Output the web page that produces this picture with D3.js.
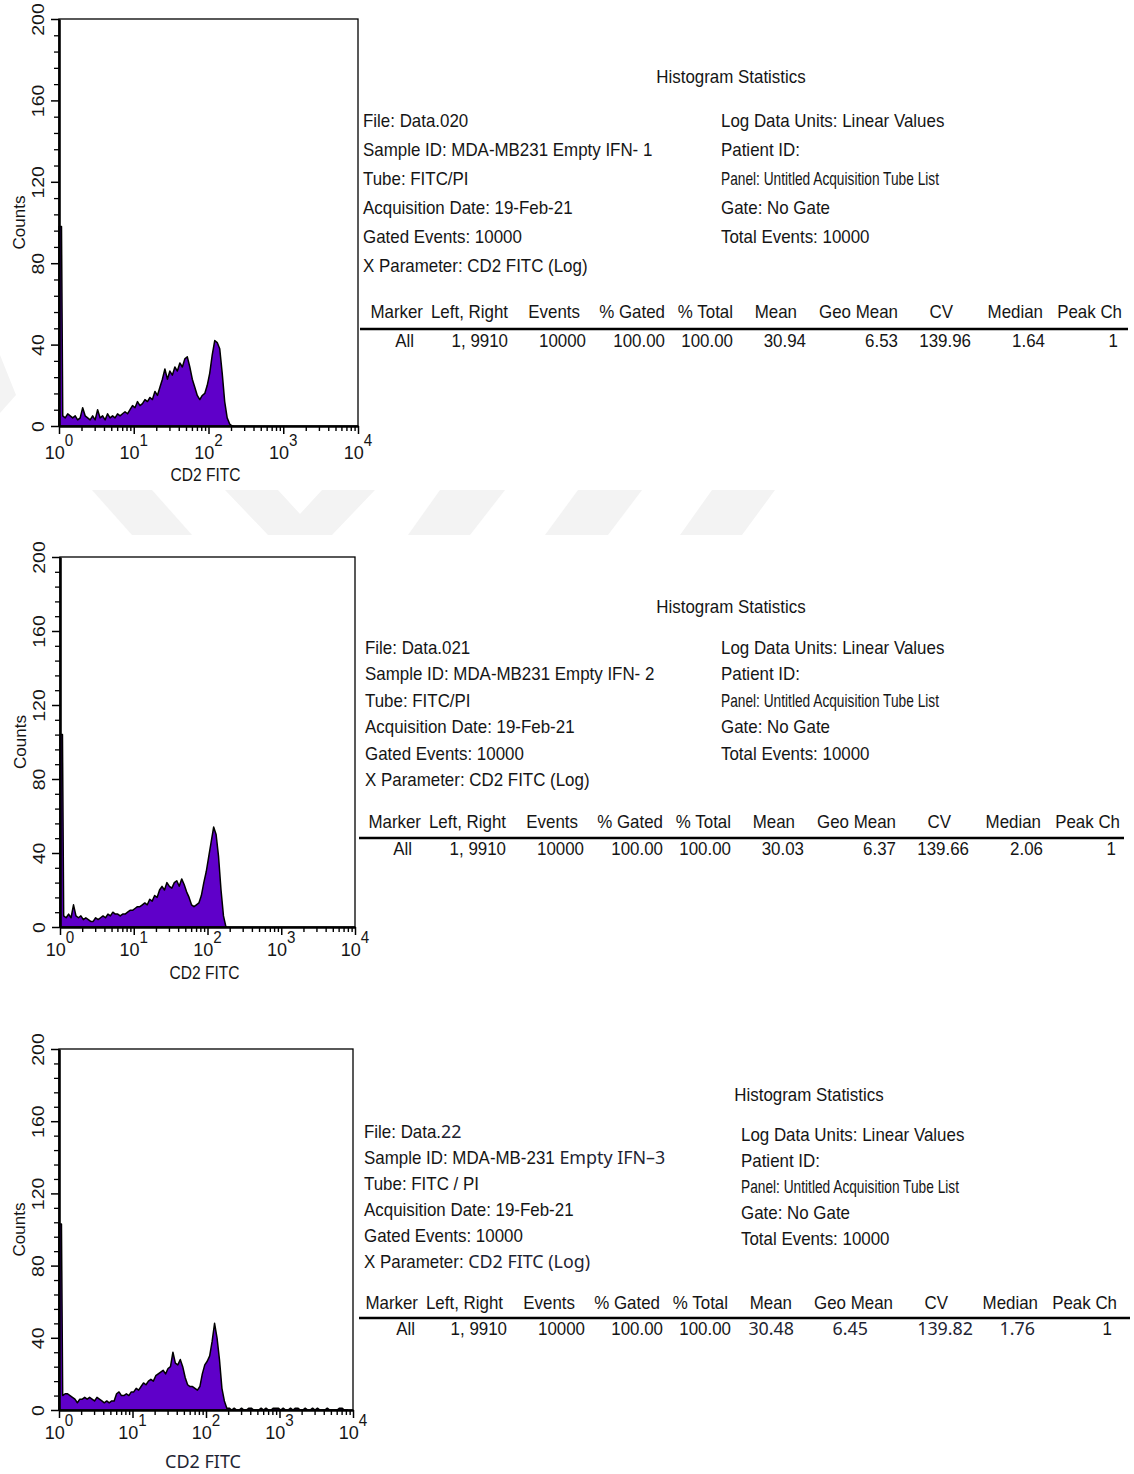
<!DOCTYPE html>
<meta charset="utf-8">
<style>
  body { margin: 0; background: #fff; }
  #chart svg text { font-family: "Liberation Sans", Arial, sans-serif; fill: #151515; }
</style>
<body>
<div id="chart"></div>
<script src="https://d3js.org/d3.v7.min.js"></script>
<script>
// ---- data ----
// counts per channel, 30 channels per decade starting at 10^0
const binsPerDecade = 30;
const counts1 = [98,
  5,4,6,5,4,5,3,4,9,5,4,3,5,3,8,4,5,3,6,4,5,4,6,5,6,7,6,8,10,
  9,12,10,11,13,12,14,13,17,15,19,23,28,23,27,25,29,27,31,29,33,34,29,23,19,15,13,15,16,20,
  26,35,42,41,38,26,12,4,1,0];
const counts2 = [104,
  6,5,7,5,12,6,5,6,4,5,4,3,3,5,4,5,6,5,7,6,8,7,7,6,7,7,8,9,9,
  10,11,11,12,13,12,15,14,17,16,20,22,20,24,22,21,24,25,22,26,23,19,16,12,11,12,13,17,24,30,
  38,46,54,50,38,20,6,0];
const counts3 = [103,
  8,9,9,8,7,6,4,6,6,7,6,7,6,5,7,6,5,4,5,4,5,5,9,10,8,8,9,8,10,
  10,12,11,13,15,14,16,17,16,19,20,21,22,20,23,24,32,26,25,28,24,18,14,13,13,12,11,13,20,25,
  27,30,38,48,40,28,12,5,1,
  1,0,1,0,0,1,0,0,1,1,0,0,0,1,0,1,0,0,1,1,1,0,1,0,0,1,0,1,1,0,0,1,0,0,1,0,1,0,0,0,1,0,0,0,0,1,1,0,0];

const yTicks = [0, 40, 80, 120, 160, 200];
const xDecades = [0, 1, 2, 3, 4];

const tableHeader = ["Marker", "Left, Right", "Events", "% Gated", "% Total", "Mean", "Geo Mean", "CV", "Median", "Peak Ch"];
const tableRow1 = ["All", "1, 9910", "10000", "100.00", "100.00", "30.94", "6.53", "139.96", "1.64", "1"];
const tableRow2 = ["All", "1, 9910", "10000", "100.00", "100.00", "30.03", "6.37", "139.66", "2.06", "1"];
const tableRow3 = ["All", "1, 9910", "10000", "100.00", "100.00", "{30.48}", "{6.45}", "{139.82}", "{1.76}", "1"];

// {..} = part typed in another font in the original
const infoLeft1 = ["File: Data.020", "Sample ID: MDA-MB231 Empty IFN- 1", "Tube: FITC/PI",
  "Acquisition Date: 19-Feb-21", "Gated Events: 10000", "X Parameter: CD2 FITC (Log)"];
const infoLeft2 = ["File: Data.021", "Sample ID: MDA-MB231 Empty IFN- 2", "Tube: FITC/PI",
  "Acquisition Date: 19-Feb-21", "Gated Events: 10000", "X Parameter: CD2 FITC (Log)"];
const infoLeft3 = ["File: Data.{22}", "Sample ID: MDA-MB-231 {Empty IFN\u20133}", "Tube: FITC / PI",
  "Acquisition Date: 19-Feb-21", "Gated Events: 10000", "X Parameter: {CD2 FITC (Log)}"];
const infoRight = ["Log Data Units: Linear Values", "Patient ID:", "Panel: Untitled Acquisition Tube List",
  "Gate: No Gate", "Total Events: 10000"];

const xLabel = "CD2 FITC", yLabel = "Counts", statsTitle = "Histogram Statistics";

// ---- layout ----
const headRight = [423, 508, 580, 665, 733, 797, 898, 953, 1043, 1122];
const rowRight = [414, 508, 586, 665, 733, 806, 898, 971, 1045, 1118];

const panels = [
  { counts: counts1, left: 59, right: 358, top: 19, bottom: 426, tickDy: 33, labelDy: 55,
    titleX: 731, titleY: 83, leftX: 363, rightX: 721, textY: 127, step: 29, rightY: 127,
    info: infoLeft1, row: tableRow1, headY: 318, ruleY: 329, rowY: 347, rule: [360, 1128], dx: 0 },
  { counts: counts2, left: 60, right: 355, top: 557, bottom: 927, tickDy: 29, labelDy: 52,
    titleX: 731, titleY: 613, leftX: 365, rightX: 721, textY: 654, step: 26.4, rightY: 654,
    info: infoLeft2, row: tableRow2, headY: 828, ruleY: 838, rowY: 855, rule: [359, 1124], dx: -2 },
  { counts: counts3, left: 59, right: 353, top: 1049, bottom: 1410, tickDy: 29, labelDy: 58, altLabel: true,
    titleX: 809, titleY: 1101, leftX: 364, rightX: 741, textY: 1138, step: 26, rightY: 1141,
    info: infoLeft3, row: tableRow3, headY: 1309, ruleY: 1318, rowY: 1335, rule: [359, 1130], dx: -5,
    rowRightOverride: [415, 507, 585, 663, 731, 794, 868, 973, 1035, 1112] }
];

const PURPLE = "#5f00c9";
const ALT = "'Noto Sans', 'Open Sans', sans-serif";
const ALT_COLOR = "#1e2433";

const svg = d3.select("#chart").append("svg")
  .attr("width", 1134).attr("height", 1474);

// faint watermark in the background
const watermark = [
  [[0, 355], [16, 395], [0, 413]],
  [[92, 490], [152, 490], [192, 535], [132, 535]],
  [[225, 490], [278, 490], [300, 514], [322, 490], [375, 490], [332, 535], [268, 535]],
  [[440, 490], [505, 490], [470, 535], [408, 535]],
  [[578, 490], [642, 490], [608, 535], [545, 535]],
  [[712, 490], [775, 490], [742, 535], [680, 535]]
];
svg.append("g").selectAll("polygon").data(watermark).join("polygon")
  .attr("points", d => d.map(p => p.join(",")).join(" "))
  .attr("fill", "#f3f3f3");

function addText(g, x, y, str, o = {}) {
  const sx = o.sx ?? 0.94, size = o.size ?? 18;
  const t = g.append("text")
    .attr("transform", `translate(${x},${y}) scale(${sx},1)`)
    .attr("text-anchor", o.anchor || "start")
    .style("font-size", size + "px");
  if (o.len) t.attr("textLength", o.len / sx).attr("lengthAdjust", "spacingAndGlyphs");
  str.split(/(\{[^}]*\})/).filter(s => s).forEach(s => {
    if (s[0] === "{") {
      t.append("tspan").text(s.slice(1, -1))
        .style("font-family", ALT).style("font-size", "19px").style("fill", ALT_COLOR);
    } else {
      t.append("tspan").text(s);
    }
  });
  return t;
}

function drawPanel(p) {
  const g = svg.append("g");
  const x = d3.scaleLog().domain([1, 1e4]).range([p.left, p.right]);
  const y = d3.scaleLinear().domain([0, 200]).range([p.bottom, p.top]);

  // histogram outline: first channel as a bar, the rest through channel centres
  const w = Math.pow(10, 1 / binsPerDecade);
  const pts = [{ v: 1, c: 0 }, { v: 1, c: p.counts[0] }, { v: w, c: p.counts[0] }];
  p.counts.forEach((c, i) => {
    if (i > 0) pts.push({ v: Math.pow(10, (i + 0.5) / binsPerDecade), c: c });
  });
  pts.push({ v: Math.pow(10, p.counts.length / binsPerDecade), c: 0 });

  g.append("path").datum(pts)
    .attr("d", d3.area().x(d => x(d.v)).y0(y(0)).y1(d => y(d.c)))
    .attr("fill", PURPLE);
  g.append("path").datum(pts)
    .attr("d", d3.line().x(d => x(d.v)).y(d => y(d.c)))
    .attr("fill", "none").attr("stroke", "#000").attr("stroke-width", 1.5)
    .attr("stroke-linejoin", "round");

  // frame
  g.append("rect")
    .attr("x", p.left).attr("y", p.top)
    .attr("width", p.right - p.left).attr("height", p.bottom - p.top)
    .attr("fill", "none").attr("stroke", "#000").attr("stroke-width", 1.3);

  // y axis
  const yMinor = d3.range(0, 201, 8).filter(v => !yTicks.includes(v));
  g.append("g").attr("transform", `translate(${p.left},0)`)
    .call(d3.axisLeft(y).tickValues(yMinor).tickSize(5).tickFormat(""))
    .call(a => a.select(".domain").remove())
    .selectAll(".tick line").attr("stroke-width", 1.3);

  const ya = g.append("g").attr("transform", `translate(${p.left},0)`)
    .call(d3.axisLeft(y).tickValues(yTicks).tickSize(8).tickSizeOuter(0))
    .attr("font-size", null).attr("font-family", null);
  ya.select(".domain").attr("stroke-width", 2.6);
  ya.selectAll(".tick line").attr("stroke-width", 1.5);
  ya.selectAll(".tick text")
    .attr("x", null).attr("dy", null)
    .attr("text-anchor", "middle")
    .attr("transform", "translate(-15,0) scale(0.85,1) rotate(-90)")
    .style("font-size", "19.5px");

  g.append("text")
    .attr("transform", `translate(${p.left - 34},${(p.top + p.bottom) / 2}) scale(0.92,1) rotate(-90)`)
    .attr("text-anchor", "middle")
    .style("font-size", "17px")
    .text(yLabel);

  // x axis
  const xMinor = [];
  xDecades.slice(0, -1).forEach(k => {
    for (let m = 2; m <= 9; m++) xMinor.push(m * Math.pow(10, k));
  });
  g.append("g").attr("transform", `translate(0,${p.bottom})`)
    .call(d3.axisBottom(x).tickValues(xMinor).tickSize(5).tickFormat(""))
    .call(a => a.select(".domain").remove())
    .selectAll(".tick line").attr("stroke-width", 1.4);
  const xa = g.append("g").attr("transform", `translate(0,${p.bottom})`)
    .call(d3.axisBottom(x).tickValues(xDecades.map(d => Math.pow(10, d))).tickSize(8).tickSizeOuter(0).tickFormat(""));
  xa.select(".domain").attr("stroke-width", 2.6);
  xa.selectAll(".tick line").attr("stroke-width", 1.5);

  xDecades.forEach(d => {
    const t = g.append("text")
      .attr("transform", `translate(${x(Math.pow(10, d))},${p.bottom + p.tickDy}) scale(0.95,1)`)
      .attr("text-anchor", "middle")
      .style("font-size", "19px");
    t.append("tspan").text("10");
    t.append("tspan").attr("dy", -13).style("font-size", "16px").text(d);
  });

  const lx = (p.left + p.right) / 2 - 3;
  if (p.altLabel) {
    g.append("text")
      .attr("x", lx).attr("y", p.bottom + p.labelDy)
      .attr("text-anchor", "middle")
      .style("font-family", ALT).style("font-size", "18px").style("fill", ALT_COLOR)
      .text(xLabel);
  } else {
    addText(g, lx, p.bottom + p.labelDy, xLabel, { anchor: "middle", size: 19, len: 70 });
  }

  // statistics block
  addText(g, p.titleX, p.titleY, statsTitle, { anchor: "middle" });
  p.info.forEach((s, i) => addText(g, p.leftX, p.textY + i * p.step, s));
  infoRight.forEach((s, i) => {
    const o = s.startsWith("Panel:") ? { len: 218 } : {};
    addText(g, p.rightX, p.rightY + i * p.step, s, o);
  });

  tableHeader.forEach((s, i) => addText(g, headRight[i] + p.dx, p.headY, s, { anchor: "end" }));
  const rr = p.rowRightOverride || rowRight.map(v => v + p.dx);
  p.row.forEach((s, i) => addText(g, rr[i], p.rowY, s, { anchor: "end" }));

  g.append("line")
    .attr("x1", p.rule[0]).attr("x2", p.rule[1])
    .attr("y1", p.ruleY).attr("y2", p.ruleY)
    .attr("stroke", "#000").attr("stroke-width", 2.5);
}

panels.forEach(drawPanel);
</script>
</body>
